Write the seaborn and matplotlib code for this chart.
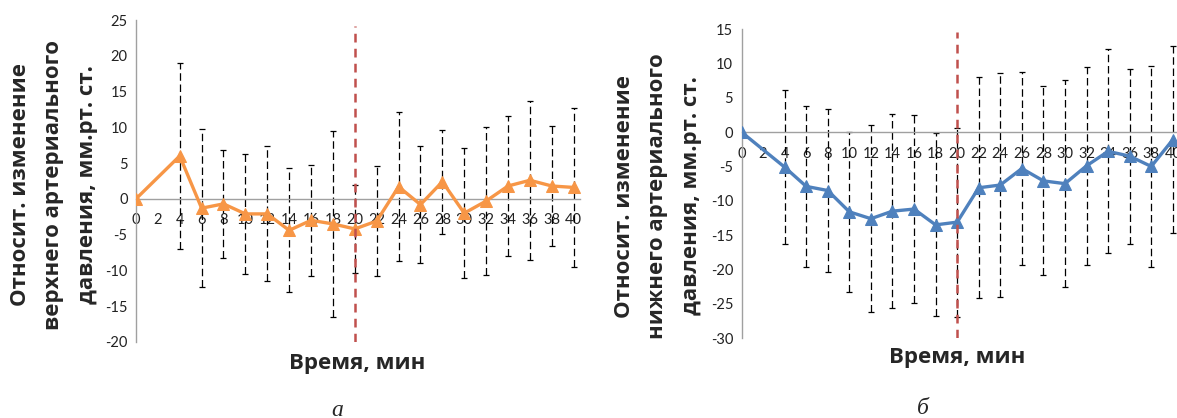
import numpy as np
import pandas as pd
import matplotlib
matplotlib.use("Agg")
import matplotlib.pyplot as plt
import seaborn as sns

# time points, min (no measurement at 2 min)
time_min = [0, 4, 6, 8, 10, 12, 14, 16, 18, 20, 22, 24, 26, 28, 30, 32, 34, 36, 38, 40]
tick_labels = list(range(0, 41, 2))

# upper (systolic) pressure, relative change
sys_mean = [0, 6.0, -1.3, -0.7, -2.1, -2.1, -4.4, -3.0, -3.5, -4.2, -3.1,
            1.7, -0.8, 2.4, -2.0, -0.3, 1.8, 2.6, 1.8, 1.6]
sys_sd = [0, 13.0, 11.05, 7.5, 8.4, 9.45, 8.65, 7.75, 13.05, 6.15, 7.65,
          10.4, 8.2, 7.25, 9.1, 10.4, 9.8, 11.15, 8.4, 11.1]

# lower (diastolic) pressure, relative change
dia_mean = [0, -5.1, -7.9, -8.5, -11.6, -12.6, -11.5, -11.2, -13.5, -13.1, -8.1,
            -7.7, -5.3, -7.1, -7.5, -4.9, -2.8, -3.5, -5.0, -1.1]
dia_sd = [0, 11.2, 11.75, 11.85, 11.6, 13.6, 14.1, 13.65, 13.3, 13.75, 16.05,
          16.3, 14.0, 13.75, 15.05, 14.4, 14.85, 12.75, 14.65, 13.65]

sns.set_style("white")
plt.rcParams['font.family'] = ['Lato', 'DejaVu Sans']
plt.rcParams['axes.unicode_minus'] = False


def draw_panel(ax, mean, sd, color, ylim, yticks, xmax, line_top):
    df = pd.DataFrame({"t": time_min, "v": mean})
    eb = ax.errorbar(time_min[1:], mean[1:], yerr=sd[1:], fmt="none",
                     ecolor="black", elinewidth=0.9, capsize=2.5,
                     capthick=0.9, zorder=2)
    eb[2][0].set_linestyle((0, (6, 3)))
    sns.lineplot(data=df, x="t", y="v", ax=ax, color=color, linewidth=2.4,
                 marker="^", markersize=8, markeredgecolor=color, zorder=3)
    ax.plot([20, 20], [ylim[0], line_top], color="#C0504D",
            linewidth=1.8, linestyle=(0, (3.5, 2.5)), zorder=4)
    ax.set_xlim(0, xmax)
    ax.set_ylim(*ylim)
    ax.set_yticks(yticks)
    ax.set_xticks(tick_labels)
    ax.set_xticklabels([str(t) for t in tick_labels])
    ax.spines['left'].set_position(('data', 0))
    ax.spines['bottom'].set_position(('data', 0))
    ax.spines['top'].set_visible(False)
    ax.spines['right'].set_visible(False)
    for s in ('left', 'bottom'):
        ax.spines[s].set_color("#A0A0A0")
        ax.spines[s].set_linewidth(1.0)
    ax.tick_params(axis='y', direction='out', length=4, width=0.8,
                   color="#A0A0A0", labelsize=10.5, pad=2, labelcolor="#222222")
    ax.tick_params(axis='x', direction='out', length=3, width=0.8,
                   color="#A0A0A0", labelsize=10.5, pad=7.5, labelcolor="#222222")
    ax.set_xlabel("")
    ax.set_ylabel("")


fig = plt.figure(figsize=(11.77, 4.18), dpi=100)

ax1 = fig.add_axes([0.1155, 0.182, 0.3775, 0.770])
draw_panel(ax1, sys_mean, sys_sd, "#F79646", (-20, 25), range(-20, 26, 5),
           40.6, 24.2)

ax2 = fig.add_axes([0.630, 0.1907, 0.3692, 0.7399])
draw_panel(ax2, dia_mean, dia_sd, "#4F81BD", (-30, 15), range(-30, 16, 5),
           40.3, 14.5)

big_font = ['Open Sans', 'DejaVu Sans']
label_kw = dict(rotation=90, ha="center", va="center", fontsize=16,
                fontweight="bold", multialignment="center", linespacing=1.75,
                family=big_font)
fig.text(54 / 1177, 1 - 185 / 418,
         "Относит. изменение\nверхнего артериального\nдавления, мм.рт. ст.",
         **label_kw)
fig.text(658 / 1177, 1 - 196 / 418,
         "Относит. изменение\nнижнего артериального\nдавления, мм.рт. ст.",
         **label_kw)

fig.text(357 / 1177, 1 - 363 / 418, "Время, мин", ha="center", va="center",
         fontsize=16, fontweight="bold", family=big_font)
fig.text(957 / 1177, 1 - 358 / 418, "Время, мин", ha="center", va="center",
         fontsize=16, fontweight="bold", family=big_font)

fig.text(337 / 1177, 1 - 410 / 418, "а", ha="center", va="center",
         fontsize=17, style="italic", family="Liberation Serif")
fig.text(923 / 1177, 1 - 408 / 418, "б", ha="center", va="center",
         fontsize=17, style="italic", family="Liberation Serif")

fig.savefig("out.png", dpi=100)
